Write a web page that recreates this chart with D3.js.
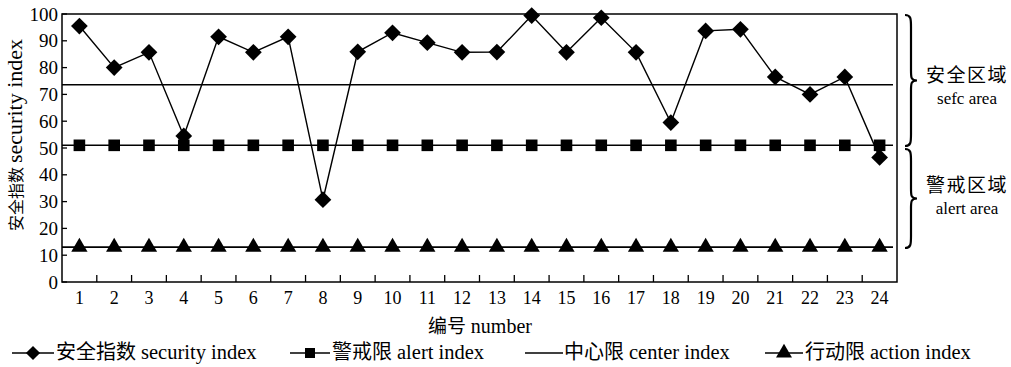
<!DOCTYPE html>
<html><head><meta charset="utf-8">
<script src="https://cdn.jsdelivr.net/npm/d3@7"></script>
<style>
body{margin:0;background:#fff;}
text{font-family:"Liberation Serif","Noto Sans CJK SC",serif;fill:#000;}
</style></head>
<body><svg id="c" width="1011" height="367"></svg>
<script>
const categories = d3.range(1,25).map(String);
const securityIndex = [95.5,80,85.7,54.5,91.5,85.7,91.5,30.7,85.9,93,89.3,85.7,85.8,99.4,85.7,98.6,85.7,59.5,93.7,94.3,76.5,70,76.5,46.5];
const alertIndex = 51;
const centerIndex = 73.6;
const actionIndex = 13;
const yTicks = [0,10,20,30,40,50,60,70,80,90,100];
const legendCn = ["安全指数","警戒限","中心限","行动限"];
const legendEn = ["security index","alert index","center index","action index"];

const svg = d3.select("#c");
const L=62,R=897,T=14,B=282;
const x = d3.scaleBand().domain(categories).range([L,R]);
const y = d3.scaleLinear().domain([0,100]).range([B,T]);
const cx = d => x(d)+x.bandwidth()/2;

// frame
svg.append("rect").attr("x",L).attr("y",T).attr("width",R-L).attr("height",B-T)
  .attr("fill","none").attr("stroke","#000").attr("stroke-width",1.5);

// x ticks (inward, at band boundaries)
const xAxis = svg.append("g");
categories.slice(1).forEach(c=>{
  xAxis.append("line").attr("x1",x(c)).attr("x2",x(c)).attr("y1",B).attr("y2",B-7).attr("stroke","#000").attr("stroke-width",1.3);
});
categories.forEach(c=>{
  xAxis.append("text").attr("x",cx(c)).attr("y",B+22).attr("text-anchor","middle").attr("font-size",18).text(c);
});
// y ticks
yTicks.forEach(v=>{
  svg.append("line").attr("x1",L).attr("x2",L+5).attr("y1",y(v)).attr("y2",y(v)).attr("stroke","#000").attr("stroke-width",1.3);
  svg.append("text").attr("x",L-4).attr("y",y(v)).attr("dy","0.35em").attr("text-anchor","end").attr("font-size",19).text(v);
});

// axis titles
const yt = svg.append("text").attr("transform",`translate(22,135) rotate(-90)`).attr("text-anchor","middle");
yt.append("tspan").attr("font-size",16).text("安全指数 ");
yt.append("tspan").attr("font-size",22).text("security index");
const xt = svg.append("text").attr("x",480).attr("y",333).attr("text-anchor","middle");
xt.append("tspan").attr("font-size",19).text("编号 ");
xt.append("tspan").attr("font-size",20).text("number");

// horizontal reference lines
const hline=(v)=>svg.append("line").attr("x1",L).attr("x2",R-4).attr("y1",y(v)).attr("y2",y(v)).attr("stroke","#000").attr("stroke-width",1.6);
hline(centerIndex); hline(alertIndex); hline(actionIndex);

// markers
const sym = {
  diamond: d3.symbol().type(d3.symbolSquare).size(140),
  square: d3.symbol().type(d3.symbolSquare).size(135),
  triangle: d3.symbol().type(d3.symbolTriangle).size(115)
};
svg.append("g").selectAll("path").data(categories).join("path")
  .attr("d",sym.square).attr("transform",d=>`translate(${cx(d)},${y(alertIndex)})`);
svg.append("g").selectAll("path").data(categories).join("path")
  .attr("d",sym.triangle).attr("transform",d=>`translate(${cx(d)},${y(actionIndex)})`);

// security line
const line = d3.line().x((d,i)=>cx(categories[i])).y(d=>y(d));
svg.append("path").datum(securityIndex).attr("d",line).attr("fill","none").attr("stroke","#000").attr("stroke-width",1.4);
svg.append("g").selectAll("path").data(securityIndex).join("path")
  .attr("d",sym.diamond).attr("transform",(d,i)=>`translate(${cx(categories[i])},${y(d)}) rotate(45)`);

// braces
function brace(x0,y1,y2){
  const w=6, ym=(y1+y2)/2;
  return `M${x0},${y1} C${x0+w},${y1} ${x0+w},${y1+4} ${x0+w},${y1+12} L${x0+w},${ym-10} C${x0+w},${ym-3} ${x0+w},${ym} ${x0+2*w},${ym} C${x0+w},${ym} ${x0+w},${ym+3} ${x0+w},${ym+10} L${x0+w},${y2-12} C${x0+w},${y2-4} ${x0+w},${y2} ${x0},${y2}`;
}
svg.append("path").attr("d",brace(905,15,146)).attr("fill","none").attr("stroke","#000").attr("stroke-width",2.2);
svg.append("path").attr("d",brace(905,149,248)).attr("fill","none").attr("stroke","#000").attr("stroke-width",2.2);
svg.append("text").attr("x",967).attr("y",82).attr("text-anchor","middle").attr("font-size",19).attr("letter-spacing",1.5).text("安全区域");
svg.append("text").attr("x",967).attr("y",104).attr("text-anchor","middle").attr("font-size",17).text("sefc area");
svg.append("text").attr("x",967).attr("y",192).attr("text-anchor","middle").attr("font-size",19).attr("letter-spacing",1.5).text("警戒区域");
svg.append("text").attr("x",967).attr("y",214).attr("text-anchor","middle").attr("font-size",17).text("alert area");

// legend
const legY=353;
const legItems=[
  {x1:12,x2:54,s:d3.symbolSquare,sz:100,rot:45,tx:56},
  {x1:290,x2:330,s:d3.symbolSquare,sz:100,rot:0,tx:332},
  {x1:525,x2:563,s:null,tx:564},
  {x1:765,x2:803,s:d3.symbolTriangle,sz:110,rot:0,tx:805}
];
legItems.forEach((it,i)=>{
  svg.append("line").attr("x1",it.x1).attr("x2",it.x2).attr("y1",legY).attr("y2",legY).attr("stroke","#000").attr("stroke-width",1.6);
  if(it.s){
    svg.append("path").attr("d",d3.symbol().type(it.s).size(it.sz)())
      .attr("transform",`translate(${(it.x1+it.x2)/2},${legY}) rotate(${it.rot})`);
  }
  const t = svg.append("text").attr("x",it.tx).attr("y",legY).attr("dy","0.35em");
  t.append("tspan").attr("font-size",20).text(legendCn[i]+" ");
  t.append("tspan").attr("font-size",20.5).text(legendEn[i]);
});
</script></body></html>
